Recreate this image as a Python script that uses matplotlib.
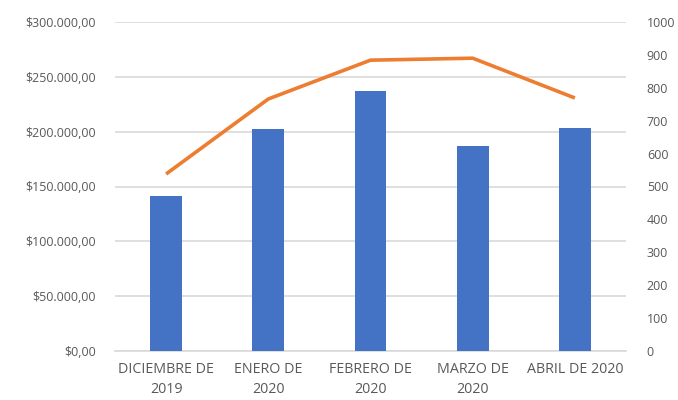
import matplotlib
matplotlib.use("Agg")
import matplotlib.pyplot as plt
from matplotlib.ticker import FuncFormatter

categories = ["DICIEMBRE DE\n2019", "ENERO DE\n2020", "FEBRERO DE\n2020",
              "MARZO DE\n2020", "ABRIL DE 2020"]
ventas = [141000, 202000, 237000, 187000, 203000]
cantidad = [538, 766, 884, 890, 769]
left_ticks = [0, 50000, 100000, 150000, 200000, 250000, 300000]
right_ticks = list(range(0, 1001, 100))

text_color = "#595959"
grid_color = "#d9d9d9"
plt.rcParams["font.family"] = ["Open Sans", "DejaVu Sans"]

fig = plt.figure(figsize=(6.78, 4.0), dpi=100)
ax = fig.add_axes([115 / 678, 1 - 351 / 400, (626 - 115) / 678, (351 - 22) / 400])

x = list(range(len(categories)))
ax.bar(x, ventas, width=0.31, color="#4472C4", zorder=3)
ax.set_xlim(-0.5, len(categories) - 0.5)
ax.set_ylim(0, 300000)
ax.set_yticks(left_ticks)


def money(v, _):
    s = f"{int(v):,}".replace(",", ".")
    return f"${s},00"


ax.yaxis.set_major_formatter(FuncFormatter(money))
ax.set_xticks(x)
ax.set_xticklabels(categories, linespacing=1.45)
ax.grid(axis="y", color=grid_color, linewidth=1.2, zorder=0)
for s in ["top", "left", "right"]:
    ax.spines[s].set_visible(False)
ax.spines["bottom"].set_color(grid_color)
ax.spines["bottom"].set_linewidth(1.2)
ax.tick_params(axis="both", length=0, colors=text_color)
ax.tick_params(axis="y", labelsize=9.0, pad=14)
ax.tick_params(axis="x", labelsize=10.3, pad=8)

ax2 = ax.twinx()
ax2.plot(x, cantidad, color="#ED7D31", linewidth=2.6, zorder=4,
         solid_capstyle="butt")
ax2.set_ylim(0, 1000)
ax2.set_yticks(right_ticks)
for s in ["top", "left", "right", "bottom"]:
    ax2.spines[s].set_visible(False)
ax2.tick_params(axis="y", length=0, colors=text_color, labelsize=9.0, pad=15)

fig.savefig("out.png", dpi=100, facecolor="white")
